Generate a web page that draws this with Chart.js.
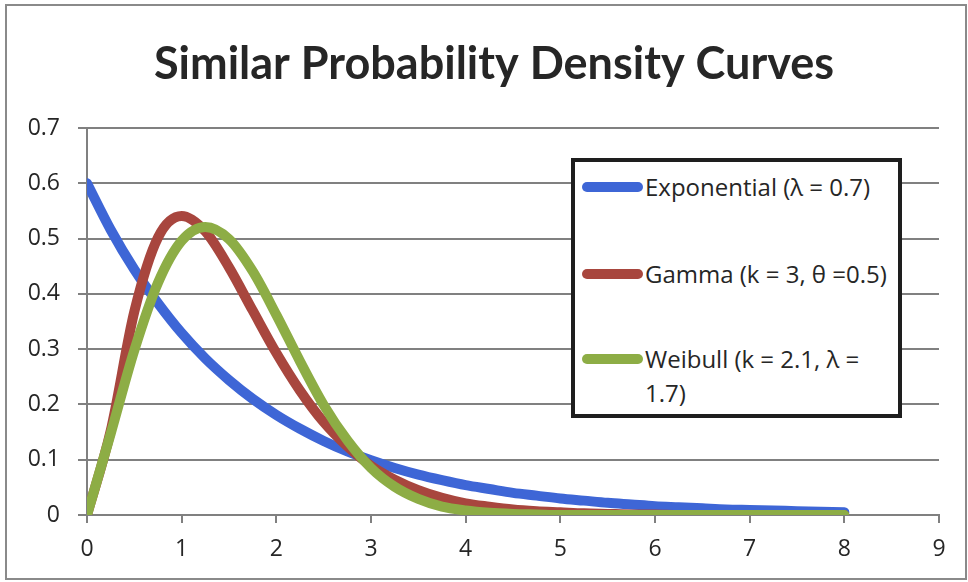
<!DOCTYPE html>
<html>
<head>
<meta charset="utf-8">
<script src="https://cdn.jsdelivr.net/npm/chart.js@4.4.1/dist/chart.umd.min.js"></script>
<style>
  html, body { margin: 0; padding: 0; background: #fff; }
  #wrap { position: relative; width: 968px; height: 582px; }
  #c { position: absolute; left: 0; top: 0; }
  #legend {
    position: absolute; left: 571px; top: 158px; width: 331px; height: 260px;
    box-sizing: border-box; border: 4px solid #1e1e1e; background: #fff;
    font-family: "Open Sans", sans-serif; font-size: 24px; color: #262626;
  }
  .sw { position: absolute; left: 7px; width: 61px; height: 10px; border-radius: 5px; }
  .lt { position: absolute; left: 70px; width: 250px; line-height: 34px; white-space: normal; }
</style>
</head>
<body>
<div id="wrap">
  <canvas id="c" width="968" height="582"></canvas>
  <div id="legend"></div>
</div>
<script>
// ---- data ----
const chartTitle = "Similar Probability Density Curves";
const seriesNames = ["Exponential (λ = 0.7)", "Gamma (k = 3, θ =0.5)", "Weibull (k = 2.1, λ = 1.7)"];
const xValues = [0, 0.25, 0.5, 0.75, 1, 1.25, 1.5, 1.75, 2, 2.25, 2.5, 2.75, 3, 3.25, 3.5, 3.75,
                 4, 4.25, 4.5, 4.75, 5, 5.25, 5.5, 5.75, 6, 6.25, 6.5, 6.75, 7, 7.25, 7.5, 7.75, 8];
const exponentialValues = [0.600, 0.516, 0.444, 0.383, 0.329, 0.283, 0.244, 0.210, 0.181, 0.156, 0.134, 0.115,
                           0.099, 0.085, 0.073, 0.063, 0.054, 0.047, 0.040, 0.035, 0.030, 0.026, 0.022, 0.019,
                           0.016, 0.014, 0.012, 0.010, 0.009, 0.008, 0.007, 0.006, 0.005];
const gammaValues = [0, 0.152, 0.368, 0.502, 0.541, 0.513, 0.448, 0.370, 0.293, 0.225, 0.168, 0.124,
                     0.089, 0.064, 0.045, 0.031, 0.021, 0.015, 0.010, 0.007, 0.005, 0.003, 0.002, 0.001,
                     0.001, 0, 0, 0, 0, 0, 0, 0, 0];
const weibullValues = [0, 0.147, 0.298, 0.420, 0.496, 0.521, 0.499, 0.441, 0.362, 0.278, 0.199, 0.135,
                       0.085, 0.051, 0.029, 0.015, 0.008, 0.004, 0.002, 0.001, 0, 0, 0, 0,
                       0, 0, 0, 0, 0, 0, 0, 0, 0];
const xTicks = [0, 1, 2, 3, 4, 5, 6, 7, 8, 9];
const yTicks = [0, 0.1, 0.2, 0.3, 0.4, 0.5, 0.6, 0.7];

// ---- styles ----
const colors = ["#3E66D6", "#A8463E", "#8DAD45"];
const legendCenters = [25, 112, 197]; // y centers inside legend box (px)
const gridColor = "#808080";
const tickColor = "#262626";

const toPts = ys => xValues.map((x, i) => ({ x: x, y: ys[i] }));
const allSeries = [exponentialValues, gammaValues, weibullValues];

const frame = {
  id: "frame",
  beforeDraw(chart) {
    const ctx = chart.ctx;
    ctx.save();
    ctx.fillStyle = "#fff";
    ctx.fillRect(0, 0, chart.width, chart.height);
    ctx.strokeStyle = "#8a8a8a";
    ctx.lineWidth = 2;
    ctx.strokeRect(6, 5, 960, 574);
    ctx.restore();
  },
  afterDraw(chart) {
    const ctx = chart.ctx;
    ctx.save();
    ctx.fillStyle = "#262626";
    ctx.font = "bold 45px Lato, 'Open Sans', sans-serif";
    ctx.textAlign = "center";
    ctx.textBaseline = "alphabetic";
    ctx.fillText(chartTitle, 494, 79);
    ctx.restore();
  }
};

const chart = new Chart(document.getElementById("c"), {
  type: "line",
  data: {
    datasets: seriesNames.map((name, i) => ({
      label: name,
      data: toPts(allSeries[i]),
      borderColor: colors[i],
      backgroundColor: colors[i],
      borderWidth: 10,
      pointRadius: 0,
      fill: false,
      cubicInterpolationMode: "monotone",
      borderCapStyle: "round",
      borderJoinStyle: "round",
      order: 3 - i
    }))
  },
  options: {
    responsive: false,
    animation: false,
    devicePixelRatio: 1,
    layout: { padding: { left: 0, right: 29, top: 128, bottom: 0 } },
    plugins: { legend: { display: false }, title: { display: false }, tooltip: { enabled: false } },
    scales: {
      x: {
        type: "linear",
        min: xTicks[0], max: xTicks[xTicks.length - 1],
        afterBuildTicks: s => { s.ticks = xTicks.map(v => ({ value: v })); },
        afterFit: s => { s.height = 67; },
        ticks: { color: tickColor, font: { family: "Open Sans", size: 23 }, padding: 13, maxRotation: 0,
                 callback: v => String(v) },
        grid: { drawOnChartArea: false, drawTicks: true, tickLength: 8, color: gridColor, lineWidth: 2 },
        border: { display: true, color: gridColor, width: 2 }
      },
      y: {
        min: yTicks[0], max: yTicks[yTicks.length - 1],
        afterBuildTicks: s => { s.ticks = yTicks.map(v => ({ value: v })); },
        afterFit: s => { s.width = 87; },
        ticks: { color: tickColor, font: { family: "Open Sans", size: 23 }, padding: 18,
                 callback: v => (v === 0 ? "0" : Number(v).toFixed(1)) },
        grid: { color: gridColor, lineWidth: 2, tickLength: 9, drawTicks: true },
        border: { display: true, color: gridColor, width: 2 }
      }
    }
  },
  plugins: [frame]
});

// HTML legend built from the chart's datasets
const legend = document.getElementById("legend");
chart.data.datasets.forEach((ds, i) => {
  const sw = document.createElement("div");
  sw.className = "sw";
  sw.style.background = ds.borderColor;
  sw.style.top = (legendCenters[i] - 5) + "px";
  legend.appendChild(sw);
  const t = document.createElement("div");
  t.className = "lt";
  t.textContent = ds.label;
  t.style.top = (legendCenters[i] - 17) + "px";
  legend.appendChild(t);
});
</script>
</body>
</html>
